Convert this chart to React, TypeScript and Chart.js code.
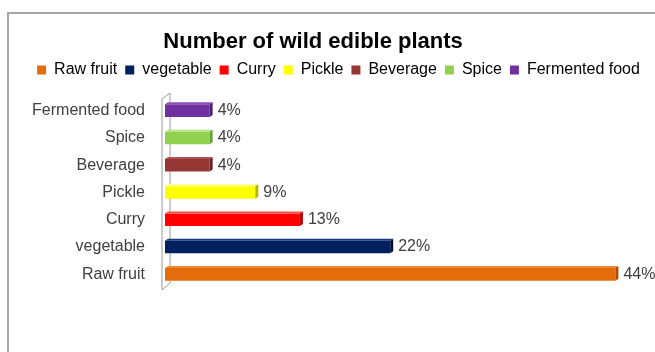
import { useEffect, useRef } from "react";
import { Chart, registerables } from "chart.js";

Chart.register(...registerables);

const chartTitle = "Number of wild edible plants";
const categories = ["Raw fruit", "vegetable", "Curry", "Pickle", "Beverage", "Spice", "Fermented food"];
const shares = [44.4, 22.2, 13.3, 8.9, 4.4, 4.4, 4.4];
const barColors = ["#E46C0A", "#002060", "#FF0000", "#FFFF00", "#953735", "#92D050", "#7030A0"];
const sideColors = ["#A94F07", "#000F33", "#B80000", "#B5B500", "#672423", "#66A234", "#4E2070"];
const topColors = ["#F08A3A", "#1A3A7A", "#FF4D4D", "#FFFF80", "#B05250", "#B0E080", "#8C50BC"];

const FONT = "'Liberation Sans', Arial, sans-serif";
const TEXT_GRAY = "#404040";

const titlePlugin = {
  id: "titleText",
  afterDraw(chart: any) {
    const ctx = chart.ctx;
    ctx.save();
    ctx.font = `bold 22px ${FONT}`;
    ctx.fillStyle = "#000000";
    ctx.textAlign = "center";
    ctx.textBaseline = "middle";
    ctx.fillText(chartTitle, chart.width * 0.478, 42);
    ctx.restore();
  },
};

const legendGap = {
  id: "legendGap",
  beforeLayout(chart: any) {
    const lg = chart.legend;
    if (lg && !lg.__patched) {
      const orig = lg.fit;
      lg.fit = function () {
        orig.call(this);
        this.height += 9;
      };
      lg.__patched = true;
    }
  },
};

const wallPlugin = {
  id: "wall",
  beforeDatasetsDraw(chart: any) {
    const { left, top, bottom } = chart.chartArea;
    const ctx = chart.ctx;
    ctx.save();
    ctx.beginPath();
    ctx.moveTo(left - 3, top + 2);
    ctx.lineTo(left + 5, top - 4);
    ctx.lineTo(left + 5, bottom - 5);
    ctx.lineTo(left - 3, bottom + 2);
    ctx.closePath();
    ctx.fillStyle = "#ffffff";
    ctx.fill();
    ctx.strokeStyle = "#9a9a9a";
    ctx.lineWidth = 1;
    ctx.stroke();
    ctx.restore();
  },
};

const bar3dPlugin = {
  id: "bar3d",
  afterDatasetsDraw(chart: any) {
    const ctx = chart.ctx;
    const meta = chart.getDatasetMeta(0);
    ctx.save();
    meta.data.forEach((el: any, i: number) => {
      const { x, y, base, height } = el.getProps(["x", "y", "base", "height"], true);
      const t = y - height / 2;
      const b = y + height / 2;
      // top face
      ctx.beginPath();
      ctx.moveTo(base, t);
      ctx.lineTo(base + 3, t - 2);
      ctx.lineTo(x + 3, t - 2);
      ctx.lineTo(x, t);
      ctx.closePath();
      ctx.fillStyle = topColors[i];
      ctx.fill();
      // right face
      ctx.beginPath();
      ctx.moveTo(x, t);
      ctx.lineTo(x + 3, t - 2);
      ctx.lineTo(x + 3, b - 2);
      ctx.lineTo(x, b);
      ctx.closePath();
      ctx.fillStyle = sideColors[i];
      ctx.fill();
      // value label
      ctx.font = `16px ${FONT}`;
      ctx.fillStyle = TEXT_GRAY;
      ctx.textAlign = "left";
      ctx.textBaseline = "middle";
      ctx.fillText(`${Math.round(shares[i])}%`, x + 8, y);
    });
    ctx.restore();
  },
};

export default function App() {
  const ref = useRef<HTMLCanvasElement | null>(null);

  useEffect(() => {
    if (!ref.current) return;
    const chart = new Chart(ref.current, {
      type: "bar",
      data: {
        labels: categories,
        datasets: [
          {
            data: shares,
            backgroundColor: barColors,
            borderWidth: 0,
            barPercentage: 0.46,
            categoryPercentage: 1,
          },
        ],
      },
      options: {
        indexAxis: "y",
        animation: false,
        responsive: false,
        maintainAspectRatio: false,
        layout: { padding: { left: 22, right: 0, top: 54, bottom: 64 } },
        scales: {
          x: { display: false, min: 0, max: 48.3 },
          y: {
            reverse: true,
            grid: { display: false, drawTicks: false },
            border: { display: false },
            ticks: { color: TEXT_GRAY, font: { family: FONT, size: 16 }, padding: 20 },
            afterFit(scale: any) {
              scale.width = 143;
            },
          },
        },
        plugins: {
          title: { display: false },
          tooltip: { enabled: false },
          legend: {
            display: true,
            position: "top",
            onClick: () => {},
            labels: {
              boxWidth: 9,
              boxHeight: 9,
              padding: 8,
              color: TEXT_GRAY,
              font: { family: FONT, size: 16 },
              generateLabels: () =>
                categories.map((c, i) => ({
                  text: c,
                  fillStyle: barColors[i],
                  strokeStyle: barColors[i],
                  lineWidth: 0,
                  hidden: false,
                  index: i,
                  datasetIndex: 0,
                })),
            },
          },
        },
      },
      plugins: [titlePlugin, legendGap, wallPlugin, bar3dPlugin],
    } as any);
    return () => chart.destroy();
  }, []);

  return (
    <div style={{ position: "fixed", left: 0, top: 0, width: 655, height: 352, background: "#ffffff", overflow: "hidden" }}>
      <div
        style={{
          position: "absolute",
          left: 7,
          top: 12,
          width: 700,
          height: 400,
          borderTop: "2px solid #a6a6a6",
          borderLeft: "2px solid #a6a6a6",
        }}
      />
      <canvas ref={ref} width={655} height={352} style={{ position: "absolute", left: 0, top: 0 }} />
    </div>
  );
}
